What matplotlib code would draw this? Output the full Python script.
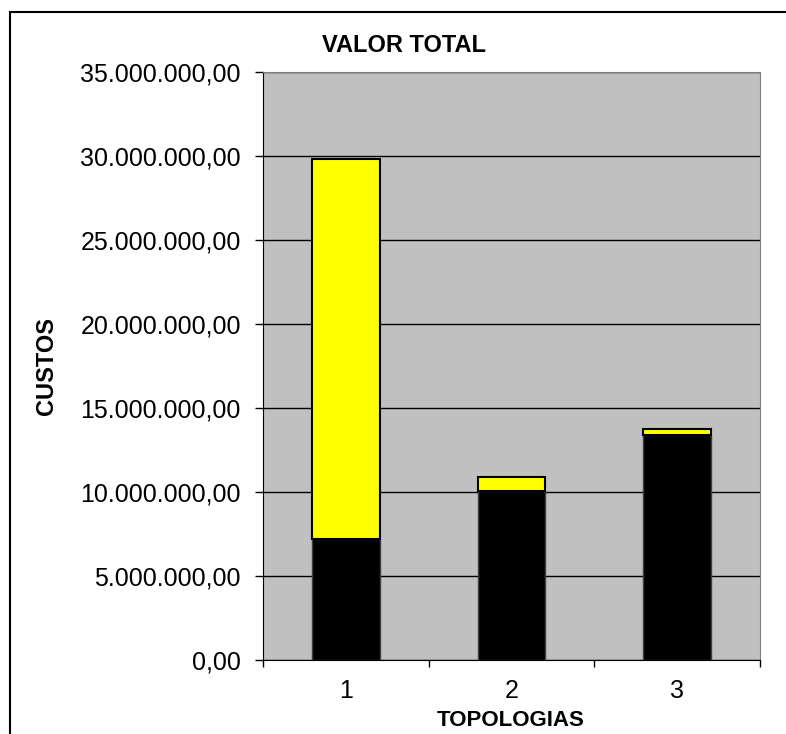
import matplotlib
matplotlib.use("Agg")
import matplotlib.pyplot as plt
from matplotlib.lines import Line2D
from matplotlib.ticker import FuncFormatter
import numpy as np

plt.rcParams['font.family'] = ['Liberation Sans', 'DejaVu Sans']

# data
topologias = ['1', '2', '3']
custo_base = [7200000, 10050000, 13400000]      # black part
custo_extra = [22600000, 830000, 370000]        # yellow part on top
y_ticks = [0, 5000000, 10000000, 15000000, 20000000, 25000000, 30000000, 35000000]


def fmt_br(v, pos=None):
    # 35000000 -> 35.000.000,00
    s = "{:,.2f}".format(v)
    return s.replace(",", "X").replace(".", ",").replace("X", ".")


fig = plt.figure(figsize=(7.86, 7.34), dpi=100)
ax = fig.add_axes([263 / 786, 1 - 660 / 734, 497 / 786, 588 / 734])
ax.set_facecolor('#c0c0c0')

x = np.arange(len(topologias))
ax.bar(x, custo_base, width=0.41, color='black', edgecolor='#404040', linewidth=1, zorder=3)
ax.bar(x, custo_extra, width=0.41, bottom=custo_base, color='#ffff00',
       edgecolor='black', linewidth=1.5, zorder=3)

ax.set_xlim(-0.5, len(topologias) - 0.5)
ax.set_ylim(0, 35000000)
ax.set_yticks(y_ticks)
ax.yaxis.set_major_formatter(FuncFormatter(fmt_br))
ax.grid(axis='y', color='black', linewidth=1, zorder=1)

# category labels centred, ticks at the boundaries (excel style)
ax.set_xticks(np.arange(-0.5, len(topologias)))
ax.set_xticklabels([])
ax.set_xticks(x, minor=True)
ax.set_xticklabels(topologias, minor=True)
ax.tick_params(axis='x', which='minor', length=0, labelsize=18, pad=14)
ax.tick_params(axis='x', which='major', length=5, width=1, direction='out')
ax.tick_params(axis='y', length=6, width=1, labelsize=18, pad=10)

for side in ['top', 'right']:
    ax.spines[side].set_color('#808080')
for side in ['left', 'bottom']:
    ax.spines[side].set_color('black')

fig.text(404 / 786, 1 - 46 / 734, 'VALOR TOTAL', ha='center', va='center',
         fontsize=17, fontweight='bold')
fig.text(46 / 786, 1 - 366 / 734, 'CUSTOS', ha='center', va='center',
         rotation=90, fontsize=17, fontweight='bold')
fig.text(511 / 786, 1 - 721 / 734, 'TOPOLOGIAS', ha='center', va='center',
         fontsize=16, fontweight='bold')

# chart frame (only left and top edges visible in the picture)
fig.add_artist(Line2D([10 / 786, 10 / 786], [0, 1 - 12 / 734], color='black', linewidth=1.5))
fig.add_artist(Line2D([10 / 786, 1], [1 - 12 / 734, 1 - 12 / 734], color='black', linewidth=1.5))

fig.savefig('out.png', dpi=100)
